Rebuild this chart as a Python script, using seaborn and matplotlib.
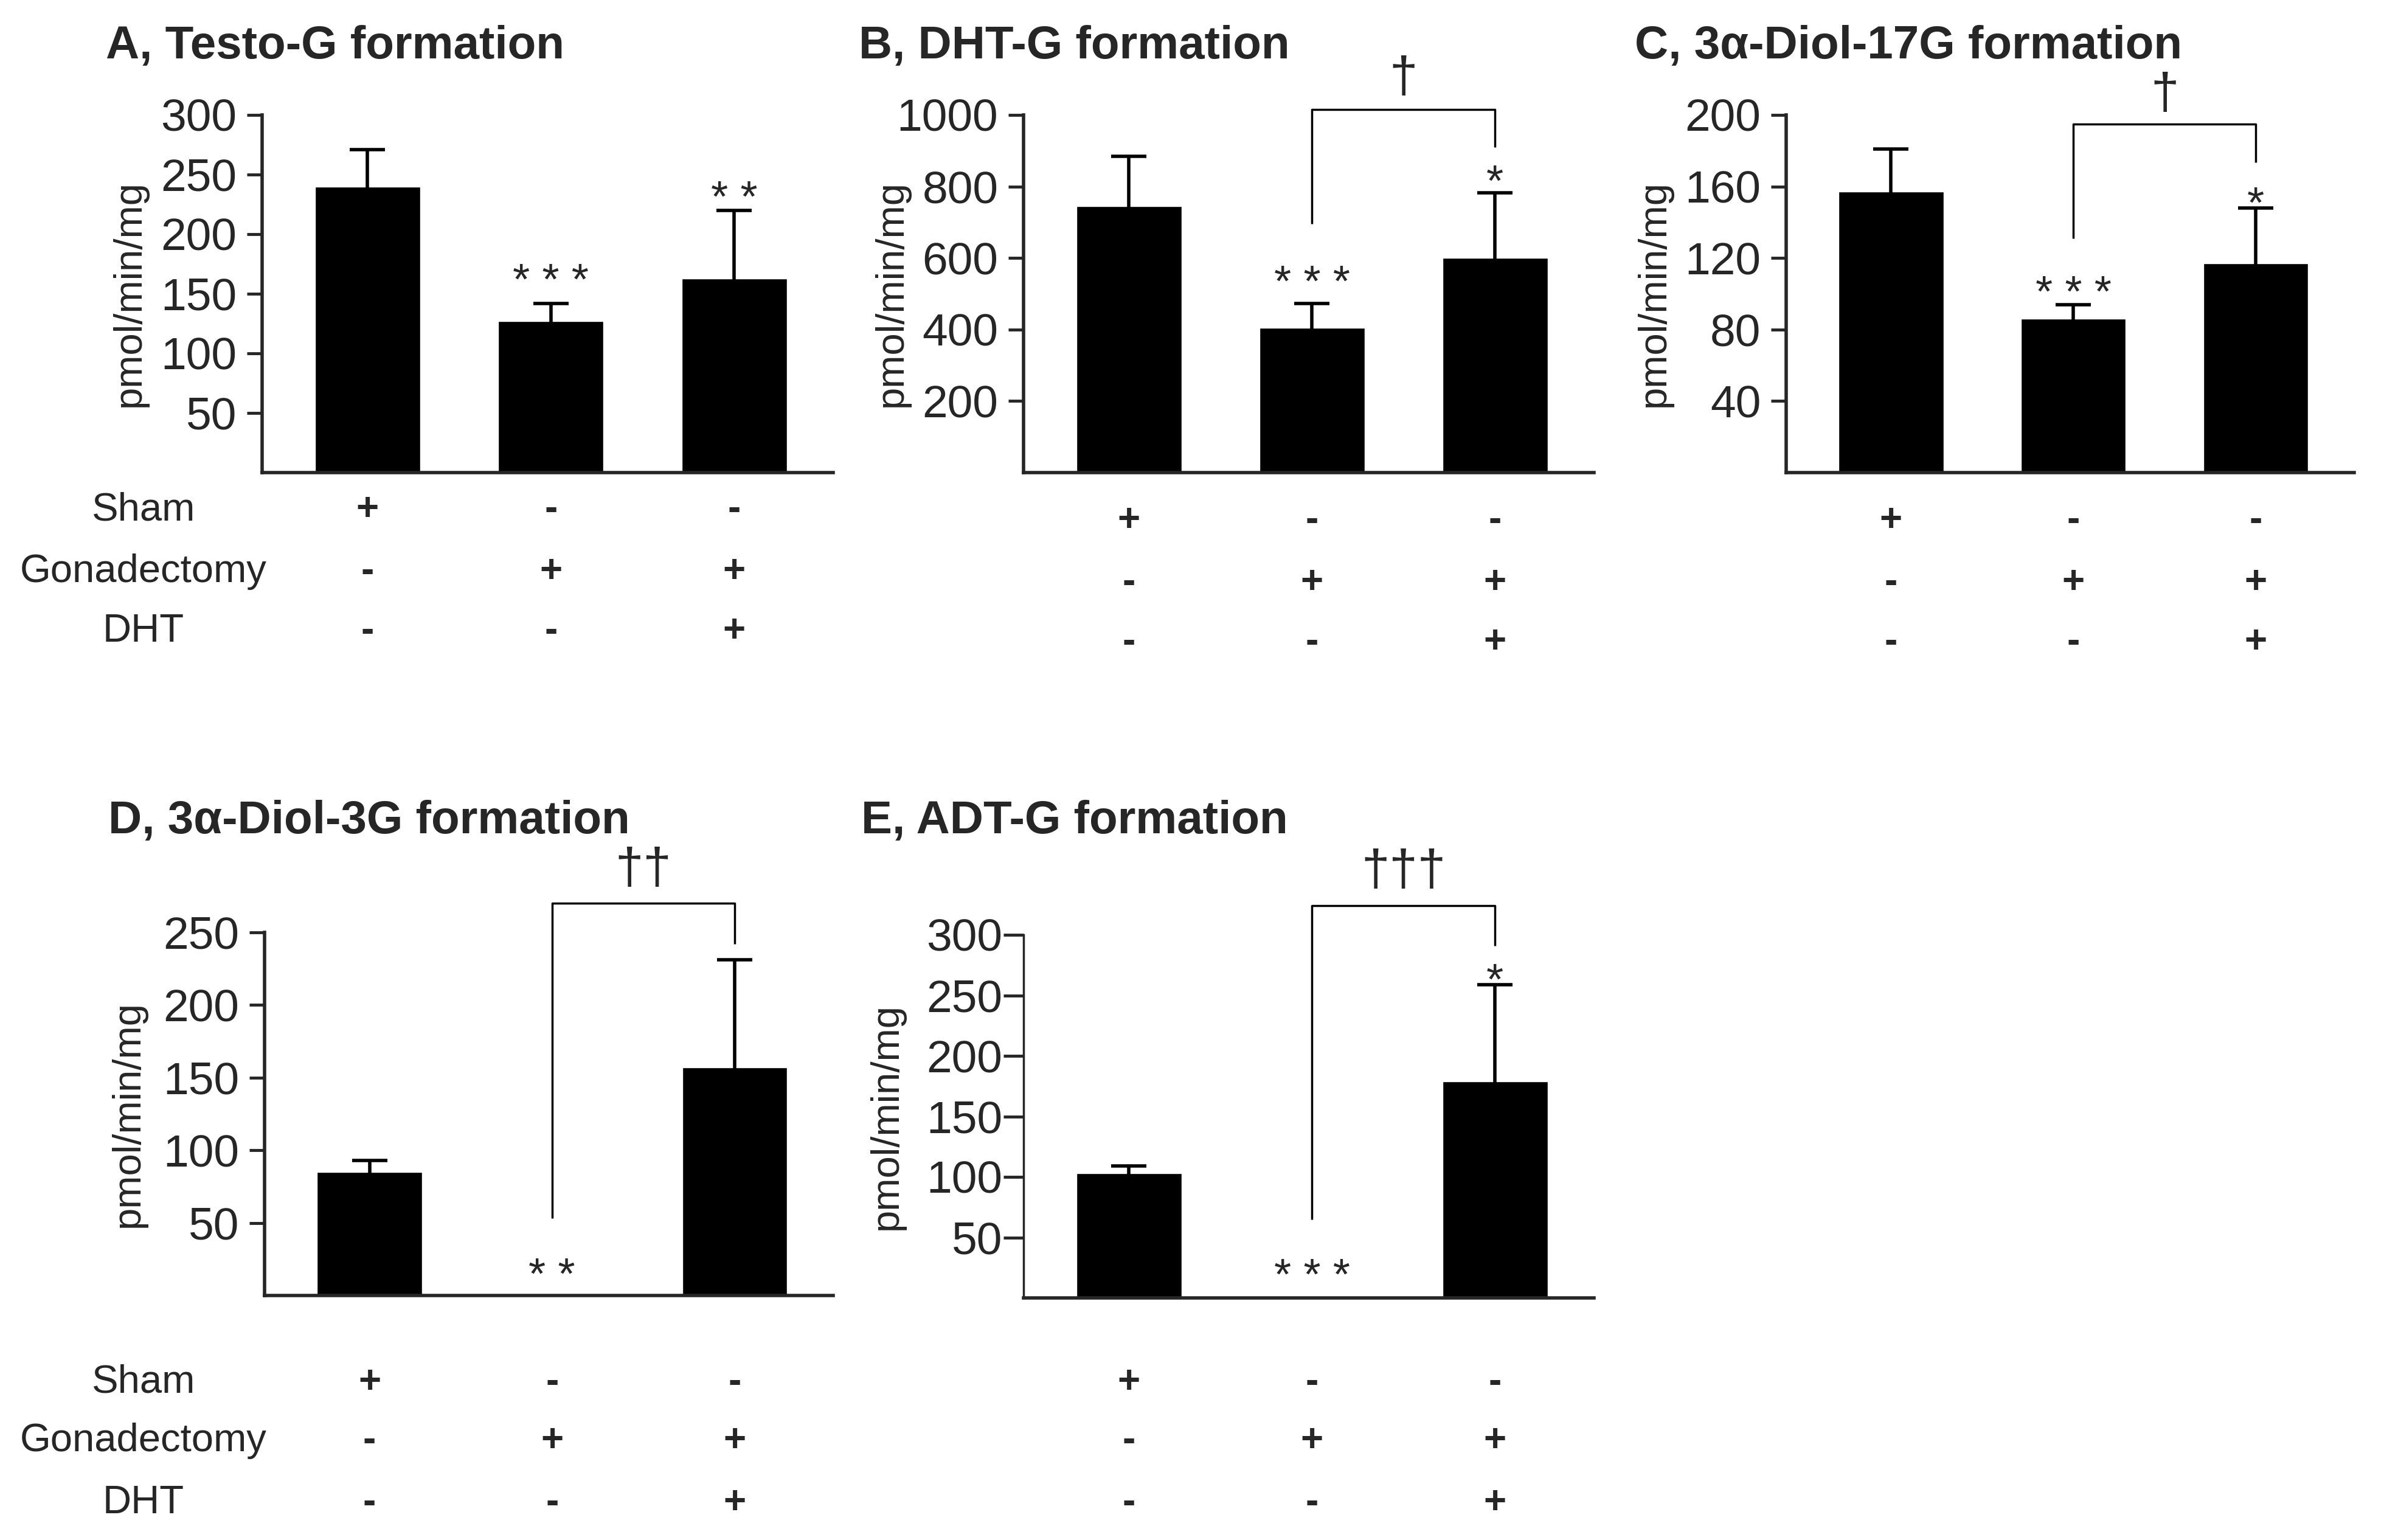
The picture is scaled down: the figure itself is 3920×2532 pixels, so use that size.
import numpy as np
import matplotlib
matplotlib.use('Agg')
import matplotlib.pyplot as plt
import matplotlib.transforms as mtransforms
import seaborn as sns

# Data (pmol/min/mg), mean and SD
groups = ['Sham', 'Gonadectomy', 'Gonadectomy + DHT']
testo_g = [240, 127, 163]
testo_g_sd = [31, 15, 57]
dht_g = [745, 405, 600]
dht_g_sd = [140, 68, 183]
diol17g = [157, 86, 117]
diol17g_sd = [24, 8, 31]
diol3g = [85, 0, 157]
diol3g_sd = [8, 0, 74]
adt_g = [103, 0, 179]
adt_g_sd = [6, 0, 80]

titles = ['A, Testo-G formation', 'B, DHT-G formation', 'C, 3α-Diol-17G formation',
          'D, 3α-Diol-3G formation', 'E, ADT-G formation']
yticks = [[50, 100, 150, 200, 250, 300], [200, 400, 600, 800, 1000],
          [40, 80, 120, 160, 200], [50, 100, 150, 200, 250], [50, 100, 150, 200, 250, 300]]
ymax = [300, 1000, 200, 250, 300]

# stars: (bar index, y centre, text)
stars = [[(1, 171, '* * *'), (2, 240, '* *')],
         [(1, 565, '* * *'), (2, 845, '*')],
         [(1, 107, '* * *'), (2, 157, '*')],
         [(1, 22, '* *')],
         [(1, 28, '* * *'), (2, 272, '*')]]
# brackets: (left bottom, top, right bottom, daggers, dagger bottom)
brackets = [None,
            (695, 1015, 910, '†', 1041),
            (131, 195, 173.5, '†', 199),
            (53, 270, 242, '††', 278),
            (65, 324, 291, '†††', 334)]

row_names = ['Sham', 'Gonadectomy', 'DHT']
row_signs = [['+', '-', '-'], ['-', '+', '+'], ['-', '-', '+']]

W, H = 3920, 2532
fig = plt.figure(figsize=(W / 100, H / 100), dpi=100)
sns.set_style('ticks')
plt.rcParams['font.family'] = ['Liberation Sans', 'DejaVu Sans']

# axes boxes in pixels: left, right, top, bottom
boxes = [(431, 1370, 189, 777), (1683, 2621, 189, 777), (2937, 3871, 189, 777),
         (435, 1370, 1533, 2130), (1683, 2621, 1537, 2134)]
title_pos = [(174, 77), (1412, 77), (2688, 77), (178, 1351), (1416, 1351)]
rows_y = [[838, 940, 1038], [856, 958, 1056], [856, 958, 1056],
          [2273, 2369, 2471], [2273, 2369, 2471]]

series = [(testo_g, testo_g_sd), (dht_g, dht_g_sd), (diol17g, diol17g_sd),
          (diol3g, diol3g_sd), (adt_g, adt_g_sd)]

for i, (vals, sd) in enumerate(series):
    l, r, t, b = boxes[i]
    ax = fig.add_axes([l / W, 1 - b / H, (r - l) / W, (b - t) / H])
    sns.barplot(x=groups, y=vals, color='black', saturation=1, width=0.575,
                errorbar=None, ax=ax)
    x = np.arange(3)
    sd = np.array(sd)
    m = sd > 0
    # symmetric bars: the lower half is hidden inside the black bar
    ax.errorbar(x[m], np.array(vals)[m], yerr=sd[m], fmt='none',
                ecolor='black', elinewidth=4, capsize=21, capthick=4, zorder=1)
    ax.set_xlim(-0.575, 2.54)
    ax.set_ylim(0, ymax[i])
    ax.set_xticks([])
    ax.set_yticks(yticks[i])
    ax.set_xlabel('')
    ax.set_ylabel('pmol/min/mg', fontsize=47)
    ax.yaxis.set_label_coords(-0.2 if i < 3 else -0.208, 0.5)
    sns.despine(ax=ax)
    ax.spines['bottom'].set_linewidth(4)
    ax.spines['left'].set_linewidth(2.5 if i == 4 else 4)
    ax.tick_params(axis='y', labelsize=54, length=18 if i < 4 else 24,
                   width=3.5, pad=12 if i < 4 else 1, direction='out')

    for xi, yv, s in stars[i]:
        ax.annotate(s, xy=(xi, yv), xytext=(0, -0.58 * 52), textcoords='offset points',
                    ha='center', va='baseline', fontsize=52, annotation_clip=False)
    if brackets[i] is not None:
        yl, yt, yr, dag, yd = brackets[i]
        ax.plot([1, 1, 2, 2], [yl, yt, yt, yr], color='black', lw=2.5,
                clip_on=False, solid_capstyle='butt')
        ax.annotate(dag, xy=(1.5, yd), xytext=(0, 0.16 * 60), textcoords='offset points',
                    ha='center', va='baseline', fontsize=60, annotation_clip=False)

    fig.text(title_pos[i][0] / W, 1 - title_pos[i][1] / H, titles[i],
             fontsize=55, fontweight='bold', ha='left', va='center')

    trans = mtransforms.blended_transform_factory(ax.transData, fig.transFigure)
    for k in range(3):
        yy = 1 - rows_y[i][k] / H
        for j in range(3):
            ax.text(j, yy, row_signs[k][j], transform=trans, ha='center', va='center',
                    fontsize=46, fontweight='bold', clip_on=False)
        if i in (0, 3):
            fig.text(236 / W, yy, row_names[k], ha='center', va='center', fontsize=47)

fig.savefig('out.png', dpi=100, facecolor='white')
